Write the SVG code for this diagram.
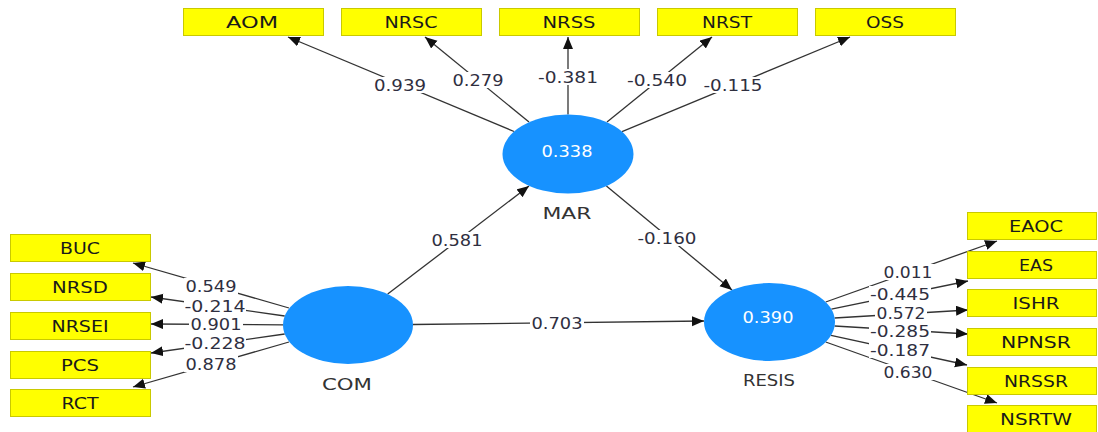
<svg xmlns="http://www.w3.org/2000/svg" width="1098" height="432" viewBox="0 0 1098 432">
<style>
.box{fill:#FFFF00;stroke:#C9C900;stroke-width:1}
.bt{font-family:"DejaVu Sans","Liberation Sans",sans-serif;font-size:15px;fill:#1a1a1a;text-anchor:middle}
.lv{fill:#1792FF}
.ct{font-family:"DejaVu Sans","Liberation Sans",sans-serif;font-size:15px;fill:#ffffff;text-anchor:middle}
.nt{font-family:"DejaVu Sans","Liberation Sans",sans-serif;font-size:15px;fill:#333333;text-anchor:middle}
.ln{stroke:#333333;stroke-width:1.3;fill:none;marker-end:url(#ah)}
.lb{fill:#ffffff}
.lt{font-family:"DejaVu Sans","Liberation Sans",sans-serif;font-size:15px;fill:#2f2f3f;text-anchor:middle}
</style>
<defs>
<marker id="ah" markerUnits="userSpaceOnUse" markerWidth="13" markerHeight="11" refX="12" refY="5" orient="auto">
<path d="M0,0 L12,5 L0,10 Z" fill="#111111"/>
</marker>
</defs>
<rect width="1098" height="432" fill="#ffffff"/>

<g id="connectors">
<!-- MAR outgoing -->
<line class="ln" x1="514" y1="131.5" x2="288" y2="37"/>
<line class="ln" x1="529" y1="122" x2="425" y2="37"/>
<line class="ln" x1="568" y1="114.5" x2="568" y2="37"/>
<line class="ln" x1="607" y1="122" x2="712" y2="37"/>
<line class="ln" x1="622" y1="131.6" x2="850" y2="37"/>
<!-- COM outgoing -->
<line class="ln" x1="289" y1="308" x2="133" y2="263"/>
<line class="ln" x1="284.7" y1="316" x2="151" y2="297"/>
<line class="ln" x1="283" y1="324.8" x2="151" y2="324"/>
<line class="ln" x1="284.7" y1="334" x2="151" y2="353"/>
<line class="ln" x1="289" y1="342" x2="133" y2="387"/>
<!-- RESIS outgoing -->
<line class="ln" x1="825.7" y1="302" x2="997" y2="241"/>
<line class="ln" x1="831.4" y1="309.2" x2="968" y2="281"/>
<line class="ln" x1="834.6" y1="318" x2="968" y2="310"/>
<line class="ln" x1="834.6" y1="326" x2="968" y2="334"/>
<line class="ln" x1="831" y1="335.4" x2="967" y2="365"/>
<line class="ln" x1="825.7" y1="342" x2="997" y2="403"/>
<!-- structural -->
<line class="ln" x1="387.7" y1="294.1" x2="529" y2="186"/>
<line class="ln" x1="606.4" y1="186" x2="732" y2="290"/>
<line class="ln" x1="413" y1="324.5" x2="704" y2="321"/>

<!-- label backgrounds -->
<rect class="lb" x="373" y="77" width="54" height="16"/>
<rect class="lb" x="451" y="72" width="54" height="16"/>
<rect class="lb" x="537" y="69" width="62" height="16"/>
<rect class="lb" x="626" y="72" width="62" height="16"/>
<rect class="lb" x="702" y="77" width="62" height="16"/>
<rect class="lb" x="184" y="278" width="54" height="16"/>
<rect class="lb" x="184" y="298" width="62" height="16"/>
<rect class="lb" x="189" y="316" width="54" height="16"/>
<rect class="lb" x="184" y="335" width="62" height="16"/>
<rect class="lb" x="184" y="356" width="54" height="16"/>
<rect class="lb" x="882" y="264" width="52" height="16"/>
<rect class="lb" x="869" y="286" width="62" height="16"/>
<rect class="lb" x="875" y="305" width="52" height="16"/>
<rect class="lb" x="869" y="323" width="62" height="16"/>
<rect class="lb" x="869" y="342" width="62" height="16"/>
<rect class="lb" x="882" y="364" width="52" height="16"/>
<rect class="lb" x="430" y="232" width="54" height="16"/>
<rect class="lb" x="636" y="230" width="62" height="16"/>
<rect class="lb" x="530" y="315" width="54" height="16"/>

<text class="lt" x="400" y="90.5" textLength="52" lengthAdjust="spacingAndGlyphs">0.939</text>
<text class="lt" x="478" y="85.5" textLength="51" lengthAdjust="spacingAndGlyphs">0.279</text>
<text class="lt" x="568" y="82.5" textLength="60" lengthAdjust="spacingAndGlyphs">-0.381</text>
<text class="lt" x="657" y="85.5" textLength="60" lengthAdjust="spacingAndGlyphs">-0.540</text>
<text class="lt" x="733" y="90.5" textLength="59" lengthAdjust="spacingAndGlyphs">-0.115</text>
<text class="lt" x="211" y="291.5" textLength="51" lengthAdjust="spacingAndGlyphs">0.549</text>
<text class="lt" x="215" y="311.5" textLength="61" lengthAdjust="spacingAndGlyphs">-0.214</text>
<text class="lt" x="216" y="329.5" textLength="51" lengthAdjust="spacingAndGlyphs">0.901</text>
<text class="lt" x="215" y="348.5" textLength="61" lengthAdjust="spacingAndGlyphs">-0.228</text>
<text class="lt" x="211" y="369.5" textLength="51" lengthAdjust="spacingAndGlyphs">0.878</text>
<text class="lt" x="908" y="277.5" textLength="49" lengthAdjust="spacingAndGlyphs">0.011</text>
<text class="lt" x="900" y="299.5" textLength="60" lengthAdjust="spacingAndGlyphs">-0.445</text>
<text class="lt" x="901" y="318.5" textLength="49" lengthAdjust="spacingAndGlyphs">0.572</text>
<text class="lt" x="900" y="336.5" textLength="60" lengthAdjust="spacingAndGlyphs">-0.285</text>
<text class="lt" x="900" y="355.5" textLength="60" lengthAdjust="spacingAndGlyphs">-0.187</text>
<text class="lt" x="908" y="377.5" textLength="49" lengthAdjust="spacingAndGlyphs">0.630</text>
<text class="lt" x="457" y="245.5" textLength="51" lengthAdjust="spacingAndGlyphs">0.581</text>
<text class="lt" x="667" y="243.5" textLength="59" lengthAdjust="spacingAndGlyphs">-0.160</text>
<text class="lt" x="557" y="328.5" textLength="51" lengthAdjust="spacingAndGlyphs">0.703</text>
</g>

<g id="node-AOM"><rect class="box" x="183.5" y="8.5" width="140" height="27"/><text class="bt" x="252" y="27.5" textLength="52" lengthAdjust="spacingAndGlyphs">AOM</text></g>
<g id="node-NRSC"><rect class="box" x="341.5" y="8.5" width="140" height="27"/><text class="bt" x="411" y="27.5" textLength="53" lengthAdjust="spacingAndGlyphs">NRSC</text></g>
<g id="node-NRSS"><rect class="box" x="499.5" y="8.5" width="140" height="27"/><text class="bt" x="569" y="27.5" textLength="53" lengthAdjust="spacingAndGlyphs">NRSS</text></g>
<g id="node-NRST"><rect class="box" x="657.5" y="8.5" width="140" height="27"/><text class="bt" x="727" y="27.5" textLength="50" lengthAdjust="spacingAndGlyphs">NRST</text></g>
<g id="node-OSS"><rect class="box" x="815.5" y="8.5" width="140" height="27"/><text class="bt" x="885" y="27.5" textLength="38" lengthAdjust="spacingAndGlyphs">OSS</text></g>

<g id="node-BUC"><rect class="box" x="10.5" y="234.5" width="140" height="27"/><text class="bt" x="80" y="253.5" textLength="40" lengthAdjust="spacingAndGlyphs">BUC</text></g>
<g id="node-NRSD"><rect class="box" x="10.5" y="273.5" width="140" height="27"/><text class="bt" x="80" y="292.5" textLength="56" lengthAdjust="spacingAndGlyphs">NRSD</text></g>
<g id="node-NRSEI"><rect class="box" x="10.5" y="312.5" width="140" height="27"/><text class="bt" x="80" y="331.5" textLength="57" lengthAdjust="spacingAndGlyphs">NRSEI</text></g>
<g id="node-PCS"><rect class="box" x="10.5" y="351.5" width="140" height="27"/><text class="bt" x="80" y="370.5" textLength="38" lengthAdjust="spacingAndGlyphs">PCS</text></g>
<g id="node-RCT"><rect class="box" x="10.5" y="389.5" width="140" height="27"/><text class="bt" x="80" y="408.5" textLength="37" lengthAdjust="spacingAndGlyphs">RCT</text></g>

<g id="node-EAOC"><rect class="box" x="967.5" y="212.5" width="129" height="27"/><text class="bt" x="1036" y="231.5" textLength="54" lengthAdjust="spacingAndGlyphs">EAOC</text></g>
<g id="node-EAS"><rect class="box" x="967.5" y="251.5" width="129" height="27"/><text class="bt" x="1036" y="270.5" textLength="34" lengthAdjust="spacingAndGlyphs">EAS</text></g>
<g id="node-ISHR"><rect class="box" x="967.5" y="289.5" width="129" height="27"/><text class="bt" x="1036" y="308.5" textLength="47" lengthAdjust="spacingAndGlyphs">ISHR</text></g>
<g id="node-NPNSR"><rect class="box" x="967.5" y="328.5" width="129" height="27"/><text class="bt" x="1036" y="347.5" textLength="70" lengthAdjust="spacingAndGlyphs">NPNSR</text></g>
<g id="node-NRSSR"><rect class="box" x="967.5" y="367.5" width="129" height="27"/><text class="bt" x="1036" y="386.5" textLength="64" lengthAdjust="spacingAndGlyphs">NRSSR</text></g>
<g id="node-NSRTW"><rect class="box" x="967.5" y="405.5" width="129" height="27"/><text class="bt" x="1036" y="424.5" textLength="72" lengthAdjust="spacingAndGlyphs">NSRTW</text></g>

<g id="node-MAR"><ellipse class="lv" cx="568" cy="154" rx="65.5" ry="39.5"/><text class="ct" x="567" y="156.5" textLength="51" lengthAdjust="spacingAndGlyphs">0.338</text><text class="nt" x="567" y="218.5" textLength="49" lengthAdjust="spacingAndGlyphs">MAR</text></g>
<g id="node-COM"><ellipse class="lv" cx="348" cy="325" rx="65" ry="39"/><text class="nt" x="347" y="389.5" textLength="50" lengthAdjust="spacingAndGlyphs">COM</text></g>
<g id="node-RESIS"><ellipse class="lv" cx="769.5" cy="322" rx="65.5" ry="39"/><text class="ct" x="768" y="322.5" textLength="51" lengthAdjust="spacingAndGlyphs">0.390</text><text class="nt" x="769" y="385.5" textLength="52" lengthAdjust="spacingAndGlyphs">RESIS</text></g>
</svg>
